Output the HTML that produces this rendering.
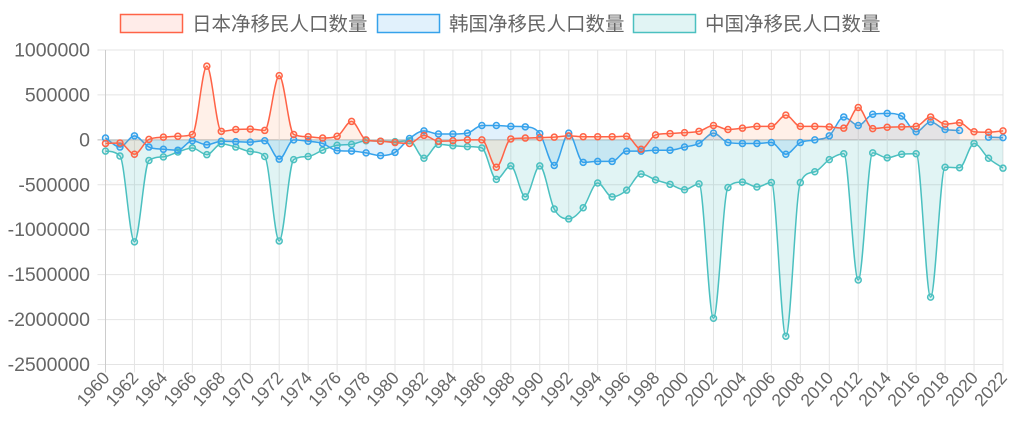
<!DOCTYPE html>
<html><head><meta charset="utf-8"><style>
body{margin:0;background:#fff;width:1014px;height:440px;overflow:hidden}
svg text{font-family:"Liberation Sans","Noto Sans CJK SC",sans-serif;fill:#666}
</style></head><body>
<svg id="chart" width="1014" height="440" xmlns="http://www.w3.org/2000/svg">
<g id="legend">
<g><rect x="120.5" y="14.5" width="62" height="18" fill="rgba(255,99,71,0.12)" stroke="#ff6347" stroke-width="1.5"/><text x="192" y="30.5" font-size="19.5">日本净移民人口数量</text></g>
<g><rect x="377.5" y="14.5" width="62" height="18" fill="rgba(54,162,235,0.15)" stroke="#36a2eb" stroke-width="1.5"/><text x="449" y="30.5" font-size="19.5">韩国净移民人口数量</text></g>
<g><rect x="633.5" y="14.5" width="62" height="18" fill="rgba(75,192,192,0.17)" stroke="#4bc0c0" stroke-width="1.5"/><text x="705" y="30.5" font-size="19.5">中国净移民人口数量</text></g>
</g>
<g id="grid"></g>
<g id="series"></g>
<g id="axes"></g>
</svg>
<script>
const years=[];for(let y=1960;y<=2022;y++)years.push(y);
const japan=[-40000,-35000,-160000,5000,30000,40000,60000,820000,95000,115000,120000,105000,715000,60000,35000,20000,40000,205000,0,-15000,-30000,-40000,50000,-15000,-10000,0,0,-305000,10000,20000,25000,30000,45000,35000,35000,35000,40000,-105000,55000,70000,80000,95000,160000,115000,130000,150000,150000,275000,150000,150000,145000,130000,360000,125000,140000,145000,150000,255000,175000,190000,90000,85000,100000];
const korea=[20000,-80000,45000,-80000,-105000,-115000,-10000,-55000,-15000,-20000,-25000,-10000,-215000,0,-15000,-40000,-120000,-125000,-145000,-175000,-140000,15000,100000,65000,65000,75000,160000,160000,150000,145000,70000,-285000,75000,-250000,-240000,-240000,-125000,-125000,-115000,-115000,-80000,-40000,75000,-30000,-40000,-40000,-30000,-160000,-30000,0,45000,255000,160000,285000,295000,265000,90000,200000,115000,105000,null,30000,25000];
const china=[-125000,-180000,-1135000,-230000,-190000,-135000,-90000,-165000,-45000,-80000,-130000,-185000,-1125000,-220000,-185000,-115000,-60000,-50000,-10000,-15000,-20000,-10000,-205000,-50000,-65000,-75000,-90000,-440000,-290000,-635000,-290000,-770000,-880000,-755000,-480000,-635000,-560000,-380000,-445000,-495000,-555000,-490000,-1985000,-530000,-470000,-525000,-475000,-2185000,-475000,-355000,-220000,-155000,-1560000,-145000,-200000,-160000,-155000,-1750000,-305000,-310000,-40000,-205000,-315000];
const yTicks=[1000000,500000,0,-500000,-1000000,-1500000,-2000000,-2500000];
const L=105.5,R=1003,T=50,B=364.5,yMax=1000000,yMin=-2500000;
const X=i=>L+(R-L)*i/(years.length-1);
const Y=v=>T+(yMax-v)/(yMax-yMin)*(B-T);
const NS='http://www.w3.org/2000/svg';
function mk(tag,attrs,parent){const e=document.createElementNS(NS,tag);for(const k in attrs)e.setAttribute(k,attrs[k]);parent.appendChild(e);return e;}
const grid=document.getElementById('grid'),axes=document.getElementById('axes'),ser=document.getElementById('series');
yTicks.forEach(v=>{const y=Y(v);
 const ln=mk('line',{x1:L-8,x2:R,y1:y,y2:y,stroke:v===0?'#bbb':'#e4e4e4','stroke-width':1},grid);
 
 
 const t=mk('text',{x:90,y:y+6.5,'font-size':19.5,'text-anchor':'end'},axes);t.textContent=v;
 
 
});
years.forEach((yr,i)=>{if(i%2)return;const x=X(i);
 const ln=mk('line',{x1:x,x2:x,y1:T,y2:B+8,stroke:i===0?'#ccc':'#e4e4e4','stroke-width':1},grid);
 
 
 const t=mk('text',{x:x+5,y:B+14,'font-size':17.5,'text-anchor':'end',transform:`rotate(-48 ${x+5} ${B+14})`},axes);t.textContent=yr;
 
 
});
function segs(data){const out=[];let cur=[];data.forEach((v,i)=>{if(v===null){if(cur.length)out.push(cur);cur=[];}else cur.push([X(i),Y(v)]);});if(cur.length)out.push(cur);return out;}
function monotone(p){const n=p.length;if(n<2)return `M${p[0][0]},${p[0][1]}`;
 const d=[],m=[];for(let i=0;i<n-1;i++)d.push((p[i+1][1]-p[i][1])/(p[i+1][0]-p[i][0]));
 m[0]=d[0];m[n-1]=d[n-2];for(let i=1;i<n-1;i++)m[i]=(d[i-1]*d[i]<=0)?0:(d[i-1]+d[i])/2;
 for(let i=0;i<n-1;i++){if(d[i]===0){m[i]=0;m[i+1]=0;continue;}const a=m[i]/d[i],b=m[i+1]/d[i],s=a*a+b*b;if(s>9){const t=3/Math.sqrt(s);m[i]=t*a*d[i];m[i+1]=t*b*d[i];}}
 let s=`M${p[0][0]},${p[0][1]}`;for(let i=0;i<n-1;i++){const h=(p[i+1][0]-p[i][0])/3;s+=` C${p[i][0]+h},${p[i][1]+m[i]*h} ${p[i+1][0]-h},${p[i+1][1]-m[i+1]*h} ${p[i+1][0]},${p[i+1][1]}`;}return s;}
const defs=[[china,'#4bc0c0','rgba(75,192,192,0.17)','china'],[korea,'#36a2eb','rgba(54,162,235,0.15)','korea'],[japan,'#ff6347','rgba(253,140,80,0.13)','japan']];
defs.forEach(([data,c,f,name])=>{
 segs(data).forEach(p=>{const path=monotone(p);const y0=Y(0);
  const a=mk('path',{d:path+` L${p[p.length-1][0]},${y0} L${p[0][0]},${y0} Z`,fill:f,stroke:'none'},ser);
  
  
  const l=mk('path',{d:path,fill:'none',stroke:c,'stroke-width':1.5},ser);
  
  
 });
});
defs.forEach(([data,c,f,name])=>{data.forEach((v,i)=>{if(v===null)return;
 const pt=mk('circle',{cx:X(i),cy:Y(v),r:3,fill:f,stroke:c,'stroke-width':1.5},ser);
 
 
});});
</script>
</body></html>
